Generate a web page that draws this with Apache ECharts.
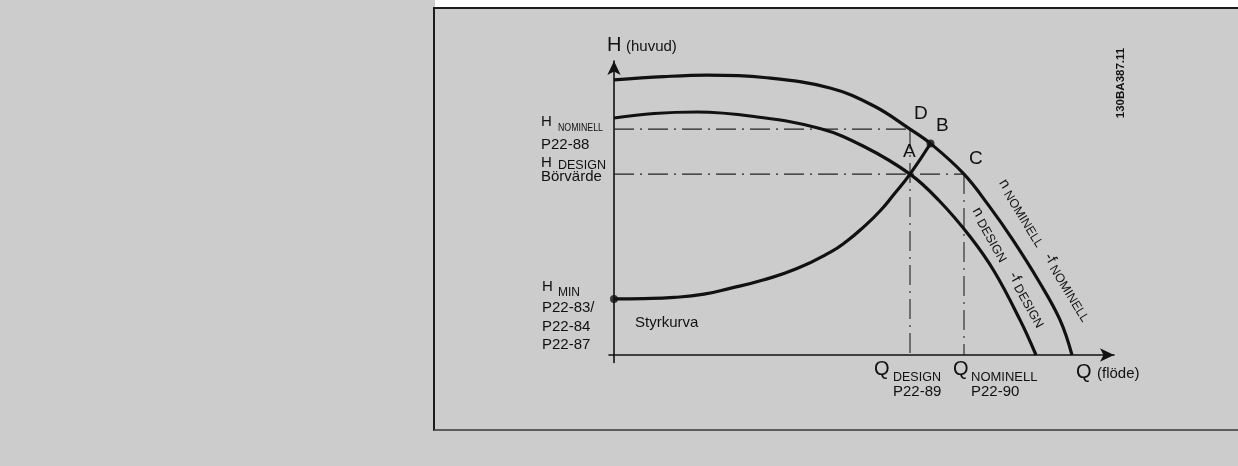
<!DOCTYPE html>
<html><head><meta charset="utf-8">
<script src="https://cdn.jsdelivr.net/npm/echarts@6/dist/echarts.min.js"></script>
<style>
html,body{margin:0;padding:0;background:#cccccc;width:1238px;height:466px;overflow:hidden;}
#topstrip{position:absolute;left:435px;top:0;width:803px;height:7px;background:#ffffff;}
#box{position:absolute;left:433px;top:7px;width:820px;height:420px;border-top:2px solid #1c1c1c;border-left:2px solid #1c1c1c;border-bottom:2px solid #5c5c5c;}
#chart{position:absolute;left:0;top:0;width:1238px;height:466px;}
</style></head><body>
<div id="topstrip"></div><div id="box"></div><div id="chart"></div>
<script>
// ---- data (Q = flow, H = head, arbitrary units) ----
const X_MIN = -1, X_MAX = 100;
const Y_MIN = -2.5, Y_MAX = 98;

const Q_NOM_CURVE = [0, 10, 18.6, 30, 43.2, 52, 59.2, 63.3, 70, 75, 79.8, 85, 89.2, 91.6];
const H_NOM_CURVE = [91.7, 92.8, 93.3, 92.5, 89, 83, 75.3, 70.5, 60.3, 49.7, 38.3, 24.5, 11.7, 0];

const Q_DES_CURVE = [0, 8, 16.6, 28, 41.2, 50, 59.2, 65, 71.2, 76, 81.2, 84.4];
const H_DES_CURVE = [79, 80.5, 81, 79.5, 75.5, 69.5, 60.3, 51.5, 39.5, 28, 11.7, 0];

const Q_CTRL = [0, 6, 12, 18, 23.2, 29.8, 36.6, 43.2, 46.6, 50, 53.2, 56, 59.2, 63.3];
const H_CTRL = [18.7, 18.8, 19.2, 20.3, 22.2, 25, 28.8, 34.2, 38.0, 42.8, 48.0, 53.6, 60.3, 70.5];

const H_NOMINELL = 75.3, H_DESIGN = 60.3, H_MIN = 18.7;
const Q_DESIGN = 59.2, Q_NOMINELL = 70;
const B_POINT = [63.3, 70.5];

const TXT_H_AXIS = ['H', '(huvud)'];
const TXT_Q_AXIS = ['Q', '(flöde)'];
const TXT_HNOM = ['H', 'NOMINELL', 'P22-88'];
const TXT_HDES = ['H', 'DESIGN', 'Börvärde'];
const TXT_HMIN = ['H', 'MIN', 'P22-83/', 'P22-84', 'P22-87'];
const TXT_QDES = ['Q', 'DESIGN', 'P22-89'];
const TXT_QNOM = ['Q', 'NOMINELL', 'P22-90'];
const TXT_POINTS = ['A', 'B', 'C', 'D'];
const TXT_CTRL = 'Styrkurva';
const TXT_CODE = '130BA387.11';

// ---- rendering ----
const FONT = '"Liberation Sans", Arial, sans-serif';
const INK = '#111111';
const pairs = (xs, ys) => xs.map((x, i) => [x, ys[i]]);

const chart = echarts.init(document.getElementById('chart'), null, {renderer: 'canvas'});
const axisCommon = {
  type: 'value',
  axisLine: {show: true, onZero: true, symbol: ['none', 'arrow'], symbolSize: [10, 14],
             lineStyle: {color: INK, width: 1.6}},
  axisTick: {show: false}, axisLabel: {show: false}, splitLine: {show: false}
};
const dashStyle = {color: '#222', width: 1.1, type: [20, 6, 2, 6]};
const curveStyle = {color: INK, width: 3.2};

chart.setOption({
  animation: false,
  backgroundColor: 'transparent',
  grid: {left: 609, right: 124, top: 61, bottom: 103.5},
  xAxis: Object.assign({}, axisCommon, {min: X_MIN, max: X_MAX}),
  yAxis: Object.assign({}, axisCommon, {min: Y_MIN, max: Y_MAX}),
  series: [
    {type: 'line', data: [[0, H_NOMINELL], [Q_DESIGN, H_NOMINELL]], symbol: 'none', lineStyle: dashStyle, z: 1},
    {type: 'line', data: [[Q_DESIGN, H_NOMINELL], [Q_DESIGN, 0]], symbol: 'none', lineStyle: dashStyle, z: 1},
    {type: 'line', data: [[0, H_DESIGN], [Q_NOMINELL, H_DESIGN]], symbol: 'none', lineStyle: dashStyle, z: 1},
    {type: 'line', data: [[Q_NOMINELL, H_DESIGN], [Q_NOMINELL, 0]], symbol: 'none', lineStyle: dashStyle, z: 1},
    {type: 'line', data: pairs(Q_NOM_CURVE, H_NOM_CURVE), smooth: 0.4, symbol: 'none', lineStyle: curveStyle, z: 3},
    {type: 'line', data: pairs(Q_DES_CURVE, H_DES_CURVE), smooth: 0.4, symbol: 'none', lineStyle: curveStyle, z: 3},
    {type: 'line', data: pairs(Q_CTRL, H_CTRL), smooth: 0.5, symbol: 'none', lineStyle: curveStyle, z: 3},
    {type: 'scatter', data: [[0, H_MIN], B_POINT], symbolSize: 8, itemStyle: {color: INK}, z: 4}
  ]
});

const P = (q, h) => chart.convertToPixel({xAxisIndex: 0, yAxisIndex: 0}, [q, h]);
const els = [];
function T(anchor, dx, dy, text, size, o) {
  o = o || {};
  els.push({
    type: 'text', x: anchor[0] + dx, y: anchor[1] + dy, rotation: o.rot || 0,
    scaleX: o.sx || 1, z: 10,
    style: {
      text: text, fill: INK,
      font: (o.bold ? 'bold ' : '') + size + 'px ' + FONT,
      fontSize: size, fontFamily: FONT, fontWeight: o.bold ? 'bold' : 'normal',
      align: o.align || 'left', textAlign: o.align || 'left',
      verticalAlign: 'middle', textVerticalAlign: 'middle',
      rich: o.rich
    }
  });
}

const aTop = P(0, Y_MAX);
T(aTop, -7, -16, TXT_H_AXIS[0], 20);
T(aTop, 12, -14.3, TXT_H_AXIS[1], 15);

const aHN = P(0, H_NOMINELL);
T(aHN, -73, -7, TXT_HNOM[0], 15);
T(aHN, -56, -1, TXT_HNOM[1], 11, {sx: 0.8});
T(aHN, -73, 15.5, TXT_HNOM[2], 15);

const aHD = P(0, H_DESIGN);
T(aHD, -73, -11, TXT_HDES[0], 15);
T(aHD, -56, -9, TXT_HDES[1], 12.5);
T(aHD, -73, 3, TXT_HDES[2], 15);

const aHM = P(0, H_MIN);
T(aHM, -72, -12, TXT_HMIN[0], 15);
T(aHM, -56, -6.5, TXT_HMIN[1], 12);
T(aHM, -72, 8.5, TXT_HMIN[2], 15);
T(aHM, -72, 27.5, TXT_HMIN[3], 15);
T(aHM, -72, 46, TXT_HMIN[4], 15);
T(aHM, 21, 23.5, TXT_CTRL, 15);

const pA = P(Q_DESIGN, H_DESIGN), pB = P(B_POINT[0], B_POINT[1]);
const pC = P(Q_NOMINELL, H_DESIGN), pD = P(Q_DESIGN, H_NOMINELL);
T(pA, -7, -22, TXT_POINTS[0], 19);
T(pB, 5.5, -18, TXT_POINTS[1], 19);
T(pC, 5, -15.5, TXT_POINTS[2], 19);
T(pD, 4, -15.5, TXT_POINTS[3], 19);

const aQD = P(Q_DESIGN, 0);
T(aQD, -36, 14.5, TXT_QDES[0], 20);
T(aQD, -17, 22.5, TXT_QDES[1], 12.5);
T(aQD, -17, 36.5, TXT_QDES[2], 15);

const aQN = P(Q_NOMINELL, 0);
T(aQN, -11, 14.5, TXT_QNOM[0], 20);
T(aQN, 7, 22.5, TXT_QNOM[1], 13);
T(aQN, 7, 36.5, TXT_QNOM[2], 15);

const aQX = P(X_MAX, 0);
T(aQX, -38, 17, TXT_Q_AXIS[0], 20);
T(aQX, -17, 18.7, TXT_Q_AXIS[1], 15);

const aCode = P(X_MAX, Y_MAX);
T(aCode, 6.5, 22, TXT_CODE, 11.5, {bold: true, align: 'center', rot: Math.PI / 2});

const richCurve = {
  n: {fontSize: 15, fontFamily: FONT, fill: INK, verticalAlign: 'middle'},
  s: {fontSize: 12.5, fontFamily: FONT, fill: INK, padding: [5, 0, 0, 0]}
};
T(pC, 81, 76, '{n|n} {s|NOMINELL}   {n|-f} {s|NOMINELL}', 13,
  {align: 'center', rot: -58.5 * Math.PI / 180, rich: richCurve});
T(pC, 45, 93, '{n|n} {s|DESIGN}    {n|-f} {s|DESIGN}', 13,
  {align: 'center', rot: -60.5 * Math.PI / 180, rich: richCurve});

chart.setOption({graphic: {elements: els}});
</script></body></html>
